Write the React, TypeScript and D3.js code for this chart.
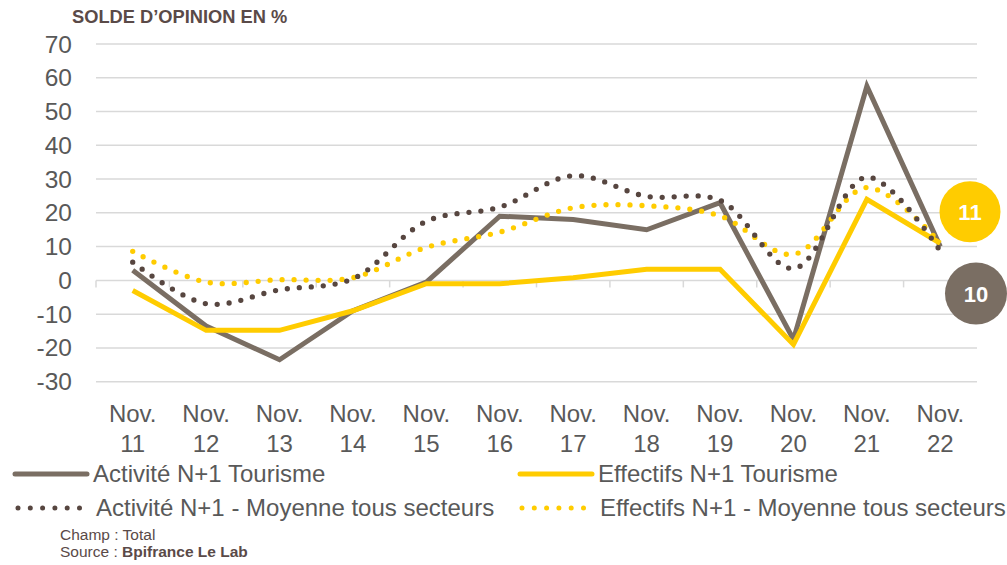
import React from "react";
import * as d3 from "d3";

const categories = ["11", "12", "13", "14", "15", "16", "17", "18", "19", "20", "21", "22"];
const activiteTourisme = [3, -13.5, -23.5, -9, -0.5, 19, 18, 15, 23, -17.5, 57.5, 10];
const effectifsTourisme = [-3, -14.8, -14.8, -9, -1, -1, 0.8, 3.3, 3.3, -19, 24, 11];
const activiteMoyenne = [5.4, -6.9, -2.8, 0.5, 17.5, 21.7, 31, 24.9, 23.7, 3.5, 30.6, 8.7];
const effectifsMoyenne = [8.6, -0.5, 0.2, 0.8, 9.8, 14.3, 21.5, 22.1, 19.1, 7.7, 27.5, 11];
const yTicks = [70, 60, 50, 40, 30, 20, 10, 0, -10, -20, -30];
const legendLabels = [
  "Activité N+1 Tourisme",
  "Effectifs N+1 Tourisme",
  "Activité N+1 - Moyenne tous secteurs",
  "Effectifs N+1 - Moyenne tous secteurs",
];

const GREY = "#7a6e63";
const DARK = "#574640";
const YELLOW = "#ffcc00";
const TEXT = "#595959";
const FONT = "'Liberation Sans', Arial, sans-serif";

export default function App() {
  const x = d3.scaleBand<string>().domain(categories).range([96, 977]).padding(0);
  const y = d3.scaleLinear().domain([-30, 70]).range([381.7, 44]);
  const cx = (c: string) => (x(c) as number) + x.bandwidth() / 2;

  const straight = d3
    .line<number>()
    .x((_, i) => cx(categories[i]))
    .y((d) => y(d));
  const smooth = d3
    .line<number>()
    .x((_, i) => cx(categories[i]))
    .y((d) => y(d))
    .curve(d3.curveCatmullRom.alpha(0.5));

  const series = [
    { data: activiteTourisme, color: GREY, dotted: false },
    { data: effectifsTourisme, color: YELLOW, dotted: false },
    { data: effectifsMoyenne, color: YELLOW, dotted: true },
    { data: activiteMoyenne, color: DARK, dotted: true },
  ];

  const legend = [
    { label: legendLabels[0], color: GREY, dotted: false, lx: 15, ly: 474 },
    { label: legendLabels[1], color: YELLOW, dotted: false, lx: 520, ly: 474 },
    { label: legendLabels[2], color: DARK, dotted: true, lx: 18, ly: 508 },
    { label: legendLabels[3], color: YELLOW, dotted: true, lx: 522, ly: 508 },
  ];

  const lastA = activiteTourisme[activiteTourisme.length - 1];
  const lastE = effectifsTourisme[effectifsTourisme.length - 1];

  return (
    <svg width={1007} height={565} style={{ position: "absolute", left: 0, top: 0, background: "#fff" }} fontFamily={FONT}>
      <rect width={1007} height={565} fill="#fff" />
      <text x={72} y={22.5} fontSize={18.3} fontWeight="bold" fill="#5a4a48">
        SOLDE D’OPINION EN %
      </text>
      {yTicks.map((t) => (
        <g key={t}>
          {t !== 0 && (
            <line x1={96} x2={977} y1={y(t)} y2={y(t)} stroke="#d9d9d9" strokeWidth={1.5} />
          )}
          <text x={72} y={y(t) + 8.5} fontSize={24.5} fill={TEXT} textAnchor="end">
            {t}
          </text>
        </g>
      ))}
      <line x1={96} x2={977} y1={y(0)} y2={y(0)} stroke="#d9d9d9" strokeWidth={1.5} />
      {categories.map((c) => (
        <line key={"t" + c} x1={x(c) as number} x2={x(c) as number} y1={y(0)} y2={y(0) + 7} stroke="#d9d9d9" strokeWidth={1.5} />
      ))}
      <line x1={977} x2={977} y1={y(0)} y2={y(0) + 7} stroke="#d9d9d9" strokeWidth={1.5} />
      {categories.map((c) => (
        <text key={"x" + c} x={cx(c)} fontSize={24} fill={TEXT} textAnchor="middle">
          <tspan x={cx(c)} y={421.5}>Nov.</tspan>
          <tspan x={cx(c)} y={451.5}>{c}</tspan>
        </text>
      ))}
      {series.map((s, i) => (
        <path
          key={i}
          d={(s.dotted ? smooth : straight)(s.data) || ""}
          fill="none"
          stroke={s.color}
          strokeWidth={s.dotted ? 5.3 : 5}
          strokeDasharray={s.dotted ? "0 12" : undefined}
          strokeLinecap={s.dotted ? "round" : "butt"}
          strokeLinejoin="miter"
        />
      ))}
      <circle cx={970} cy={211.7} r={30.5} fill={YELLOW} />
      <text x={970} y={219.5} fontSize={22} fontWeight="bold" fill="#fff" textAnchor="middle">
        {Math.round(lastE)}
      </text>
      <circle cx={976} cy={293.5} r={31} fill={GREY} />
      <text x={976} y={301.5} fontSize={22} fontWeight="bold" fill="#fff" textAnchor="middle">
        {Math.round(lastA)}
      </text>
      {legend.map((l, i) => (
        <g key={"l" + i}>
          <line
            x1={l.lx}
            x2={l.lx + 72}
            y1={l.ly}
            y2={l.ly}
            stroke={l.color}
            strokeWidth={l.dotted ? 5 : 5}
            strokeDasharray={l.dotted ? "0 12.3" : undefined}
            strokeLinecap="round"
          />
          <text x={l.lx + 78} y={l.ly + 8} fontSize={24} fill={TEXT}>
            {l.label}
          </text>
        </g>
      ))}
      <text x={60} y={540} fontSize={15.5} fill="#5a4a48">
        Champ : Total
      </text>
      <text x={60} y={557} fontSize={15.5} fill="#5a4a48">
        Source : <tspan fontWeight="bold">Bpifrance Le Lab</tspan>
      </text>
    </svg>
  );
}
